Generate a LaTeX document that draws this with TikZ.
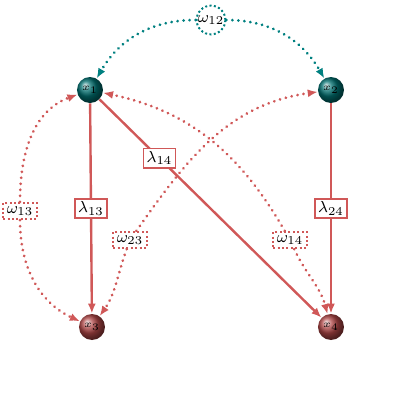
\documentclass[tikz,border=0pt]{standalone}
\usepackage{amsmath}
\usepackage{xcolor}
\usetikzlibrary{arrows.meta}

\definecolor{pathred}{RGB}{208,88,88}
\definecolor{covteal}{RGB}{0,128,128}
\definecolor{ballteal}{RGB}{0,110,110}
\definecolor{ballred}{RGB}{175,70,70}

\tikzset{
    varball/.style={circle, minimum size=13pt, inner sep=0pt, shading=ball, text=black, font=\tiny},
    tealball/.style={varball, ball color=ballteal},
    redball/.style={varball, ball color=ballred},
    path/.style={pathred, line width=1.2pt, -{Latex[length=5pt,width=4pt]}},
    weight/.style={draw=pathred, line width=0.9pt, fill=white, text=black, inner sep=1.6pt, font=\footnotesize},
    cov/.style={pathred, line width=1.5pt, dash pattern=on 0.01pt off 3pt, line cap=round,
                -{Latex[length=5pt,width=4pt]}},
    tealcov/.style={cov, covteal},
    covbox/.style={draw=pathred, line width=1pt, dash pattern=on 1pt off 1.2pt, text=black, inner sep=1.8pt, font=\footnotesize},
    covcirc/.style={circle, draw=covteal, line width=1pt, dash pattern=on 1pt off 1.2pt, text=black, inner sep=0.2pt, font=\footnotesize}
}

\begin{document}
\begin{tikzpicture}[x=0.5pt, y=0.5pt]

    \useasboundingbox (0,0) rectangle (420,420);

    % 1. The four variables
    \node[tealball] (x1) at (90,330) {$x_1$};
    \node[tealball] (x2) at (331,330) {$x_2$};
    \node[redball] (x3) at (92,93) {$x_3$};
    \node[redball] (x4) at (331,93) {$x_4$};

    % 2. Directed paths with their weights
    \draw[path] (x1) -- node[weight] {$\lambda_{13}$} (x3);
    \draw[path] (x2) -- node[weight] {$\lambda_{24}$} (x4);
    \draw[path] (x1) -- node[weight, pos=0.27] {$\lambda_{14}$} (x4);

    % 3. Covariance labels
    \node[covcirc] (w12) at (211,400) {$\omega_{12}$};
    \node[covbox] (w13) at (20,209) {$\omega_{13}$};
    \node[covbox] (w23) at (130,180) {$\omega_{23}$};
    \node[covbox] (w14) at (290,180) {$\omega_{14}$};

    % 4. Covariance curves, split at their labels
    \draw[tealcov] (w12) to[out=180, in=60] (x1);
    \draw[tealcov] (w12) to[out=0, in=120] (x2);
    \draw[cov] (w13) to[out=90, in=200] (x1);
    \draw[cov] (w13) to[out=-90, in=155] (x3);
    \draw[cov] (w23) to[out=55, in=188] (x2);
    \draw[cov] (w23) to[out=-110, in=55] (x3);
    \draw[cov] (w14) to[out=120, in=-12] (x1);
    \draw[cov] (w14) to[out=-65, in=105] (x4);

\end{tikzpicture}
\end{document}
